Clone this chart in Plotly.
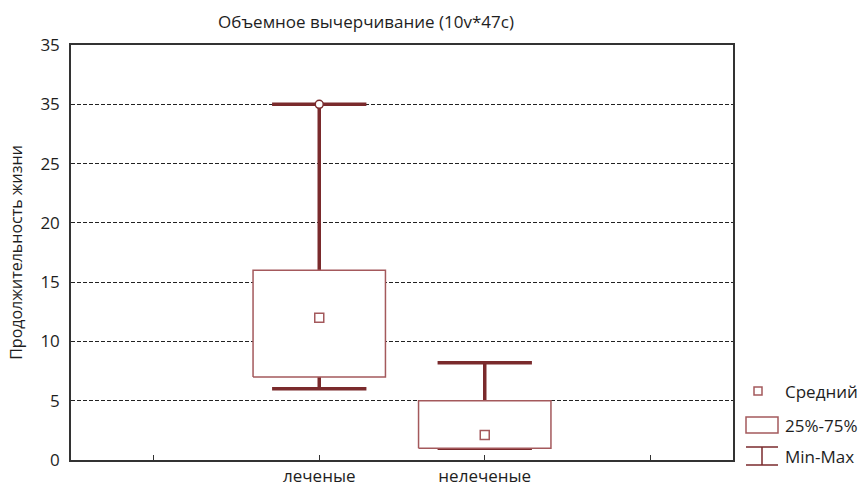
import plotly.graph_objects as go

categories = ["леченые", "нелеченые"]
cat_pos = [1.5, 2.5]
means = [12.0, 2.1]
q1 = [7.0, 1.0]
q3 = [16.0, 5.0]
vmin = [6.0, 1.0]
vmax = [30.0, 8.2]

y_tickvals = [0, 5, 10, 15, 20, 25, 30, 35]
y_ticktext = ["0", "5", "10", "15", "20", "25", "35", "35"]
x_tickvals = [0.5, 1.5, 2.5, 3.5]
x_ticktext = ["", categories[0], categories[1], ""]

DARK = "#7a2a2c"
LIGHT = "#a4595c"
FONT = "Open Sans"
TXT = "#1e1e1e"
box_hw = 0.4
cap_hw = 0.285

W, H = 862, 487
L, R, T, B = 71, 129, 45, 27
PW, PH = W - L - R, H - T - B

fig = go.Figure()

for i, x in enumerate(cat_pos):
    fig.add_trace(go.Scatter(x=[x, x], y=[vmin[i], vmax[i]], mode="lines",
                             line=dict(color=DARK, width=3.5), showlegend=False, hoverinfo="skip"))
    for v in (vmin[i], vmax[i]):
        fig.add_trace(go.Scatter(x=[x - cap_hw, x + cap_hw], y=[v, v], mode="lines",
                                 line=dict(color=DARK, width=3.5), showlegend=False, hoverinfo="skip"))
    fig.add_trace(go.Scatter(x=[x - box_hw, x + box_hw, x + box_hw, x - box_hw, x - box_hw],
                             y=[q1[i], q1[i], q3[i], q3[i], q1[i]], mode="lines",
                             fill="toself", fillcolor="white",
                             line=dict(color=LIGHT, width=1.5), showlegend=False, hoverinfo="skip"))

fig.add_trace(go.Scatter(x=cat_pos, y=means, mode="markers",
                         marker=dict(symbol="square-open", size=9, color=LIGHT, line=dict(width=1.5)),
                         showlegend=False, hoverinfo="skip"))
fig.add_trace(go.Scatter(x=[cat_pos[0]], y=[vmax[0]], mode="markers",
                         marker=dict(symbol="circle", size=8, color="white", line=dict(color=DARK, width=1.5)),
                         showlegend=False, hoverinfo="skip"))

fig.update_layout(
    width=W, height=H,
    margin=dict(l=L, r=R, t=T, b=B, autoexpand=False),
    paper_bgcolor="white", plot_bgcolor="white",
    font=dict(family=FONT, color=TXT),
    title=dict(text="Объемное вычерчивание (10v*47c)", x=366 / W, xanchor="center",
               xref="container", yref="container",
               y=1 - 22 / H, yanchor="middle", font=dict(size=17, family=FONT, color=TXT)),
    showlegend=False,
)
fig.update_xaxes(range=[0, 4], tickvals=x_tickvals, ticktext=x_ticktext, showgrid=False,
                 ticks="inside", ticklen=5, tickcolor="#333", showline=True, linecolor="#333",
                 linewidth=1.5, mirror=True, zeroline=False, automargin=False,
                 tickfont=dict(size=17, family=FONT, color=TXT))
fig.update_yaxes(range=[0, 35], tickvals=y_tickvals, ticktext=y_ticktext, showgrid=True,
                 gridcolor="#222", gridwidth=1, griddash="4px,2px", ticks="", showline=True,
                 linecolor="#333", linewidth=1.5, mirror=True, zeroline=False, automargin=False,
                 ticklabelstandoff=6,
                 title=dict(text="Продолжительность жизни", font=dict(size=16, family=FONT, color=TXT),
                            standoff=14),
                 tickfont=dict(size=17, family=FONT, color=TXT))

def px(x):
    return (x - L) / PW
def py(y):
    return (H - B - y) / PH

shapes = [
    dict(type="rect", x0=px(754), x1=px(762), y0=py(387), y1=py(395),
         line=dict(color=LIGHT, width=1.5), fillcolor="white"),
    dict(type="rect", x0=px(746), x1=px(778), y0=py(417), y1=py(433),
         line=dict(color=LIGHT, width=1.5), fillcolor="white"),
    dict(type="line", x0=px(746), x1=px(778), y0=py(447), y1=py(447),
         line=dict(color=DARK, width=1.5)),
    dict(type="line", x0=px(746), x1=px(778), y0=py(465), y1=py(465),
         line=dict(color=DARK, width=1.5)),
    dict(type="line", x0=px(762), x1=px(762), y0=py(447), y1=py(465),
         line=dict(color=DARK, width=1.5)),
]
for s in shapes:
    fig.add_shape(xref="paper", yref="paper", **s)
for text, y in [("Средний", 391), ("25%-75%", 425), ("Min-Max", 456)]:
    fig.add_annotation(text=text, xref="paper", yref="paper", x=px(783), y=py(y), xanchor="left",
                       yanchor="middle", showarrow=False, font=dict(size=17, family=FONT, color=TXT))

fig.write_html("out.html", config={"displayModeBar": False},
               post_script="document.body.style.margin='0';")
